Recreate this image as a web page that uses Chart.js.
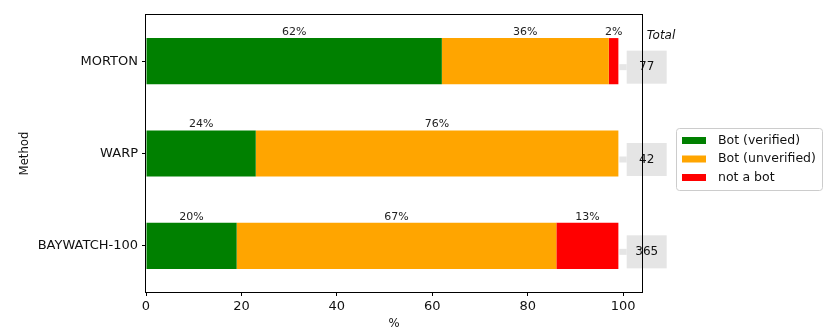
<!DOCTYPE html>
<html><head><meta charset="utf-8">
<script src="https://cdn.jsdelivr.net/npm/chart.js@4/dist/chart.umd.min.js"></script>
<style>html,body{margin:0;padding:0;background:#fff}#wrap{width:831px;height:335px}</style>
</head><body><div id="wrap"><canvas id="c" width="831" height="335"></canvas></div>
<script>
const methods = ["MORTON", "WARP", "BAYWATCH-100"];
const seriesNames = ["Bot (verified)", "Bot (unverified)", "not a bot"];
const botVerified = [62, 23, 19];
const botUnverified = [35, 76, 67];
const notABot = [2, 0, 13];
const labelsVerified = ["62%", "24%", "20%"];
const labelsUnverified = ["36%", "76%", "67%"];
const labelsNotABot = ["2%", "", "13%"];
const totals = [77, 42, 365];
const xTicks = [0, 20, 40, 60, 80, 100];
const seriesColors = ["#008000", "#FFA500", "#FF0000"];

const FONT = "'DejaVu Sans', sans-serif";
const seriesLabelText = [labelsVerified, labelsUnverified, labelsNotABot];

const overlay = {
  id: 'overlay',
  afterDatasetsDraw(chart) {
    const ctx = chart.ctx;
    const xs = chart.scales.x, ys = chart.scales.y;
    ctx.save();
    ctx.font = "11px " + FONT;
    ctx.fillStyle = "#222";
    ctx.textAlign = "center";
    ctx.textBaseline = "alphabetic";
    chart.data.datasets.forEach((ds, di) => {
      const meta = chart.getDatasetMeta(di);
      meta.data.forEach((bar, i) => {
        const txt = seriesLabelText[di][i];
        if (!txt) return;
        const cx = (bar.x + bar.base) / 2;
        const top = bar.y - bar.height / 2;
        ctx.fillText(txt, cx, top - 3);
      });
    });
    const boxCx = 646.7, boxW = 40, boxH = 33;
    methods.forEach((m, i) => {
      const yc = ys.getPixelForValue(i) + 6;
      const barEnd = xs.getPixelForValue(botVerified[i] + botUnverified[i] + notABot[i]);
      ctx.fillStyle = "#e5e5e5";
      ctx.fillRect(barEnd + 1, yc - 3, (boxCx - boxW / 2) - barEnd - 1, 6);
      ctx.fillRect(boxCx - boxW / 2, yc - boxH / 2, boxW, boxH);
      ctx.fillStyle = "#111";
      ctx.font = "12px " + FONT;
      ctx.textAlign = "center";
      ctx.textBaseline = "middle";
      ctx.fillText(String(totals[i]), boxCx, yc);
    });
    ctx.font = "italic 12px " + FONT;
    ctx.textAlign = "center";
    ctx.textBaseline = "middle";
    ctx.fillStyle = "#111";
    ctx.fillText("Total", 661, 36);
    ctx.restore();
  },
  afterDraw(chart) {
    const ctx = chart.ctx;
    const ca = chart.chartArea;
    ctx.save();
    ctx.strokeStyle = "#000";
    ctx.lineWidth = 1;
    ctx.strokeRect(Math.round(ca.left) - 0.5, Math.round(ca.top) - 0.5, Math.round(ca.right - ca.left) + 1, Math.round(ca.bottom - ca.top) + 1);
    const lx = 676, ly = 128, lw = 146, lh = 62;
    ctx.fillStyle = "rgba(255,255,255,0.8)";
    ctx.strokeStyle = "#cccccc";
    ctx.beginPath();
    if (ctx.roundRect) ctx.roundRect(lx + 0.5, ly + 0.5, lw, lh, 3); else ctx.rect(lx + 0.5, ly + 0.5, lw, lh);
    ctx.fill();
    ctx.stroke();
    ctx.font = "12.5px " + FONT;
    ctx.textAlign = "left";
    ctx.textBaseline = "middle";
    seriesNames.forEach((n, i) => {
      const yc = 140.5 + i * 18.5;
      ctx.fillStyle = seriesColors[i];
      ctx.fillRect(682, yc - 3.5, 24, 7);
      ctx.fillStyle = "#111";
      ctx.fillText(n, 718, yc);
    });
    ctx.restore();
  }
};

new Chart(document.getElementById('c'), {
  type: 'bar',
  data: {
    labels: methods,
    datasets: [
      { label: seriesNames[0], data: botVerified, backgroundColor: seriesColors[0] },
      { label: seriesNames[1], data: botUnverified, backgroundColor: seriesColors[1] },
      { label: seriesNames[2], data: notABot, backgroundColor: seriesColors[2] }
    ]
  },
  options: {
    indexAxis: 'y',
    responsive: false,
    devicePixelRatio: 1,
    animation: false,
    barPercentage: 0.5,
    categoryPercentage: 1.0,
    layout: { padding: { left: 18, top: 15, right: 189, bottom: 0 } },
    plugins: { legend: { display: false }, tooltip: { enabled: false } },
    scales: {
      x: {
        stacked: true, min: 0, max: 103.95,
        afterBuildTicks: (s) => { s.ticks = xTicks.map(v => ({ value: v })); },
        afterFit: (s) => { s.height = 43; },
        border: { display: false },
        grid: { drawOnChartArea: false, drawTicks: true, tickLength: 4, color: '#000' },
        ticks: { color: '#111', font: { family: FONT, size: 13 }, padding: 3, maxRotation: 0 },
        title: { display: true, text: '%', color: '#111', font: { family: FONT, size: 11.7 }, padding: { top: 2, bottom: 4 } }
      },
      y: {
        stacked: true,
        afterFit: (s) => { s.width = 128; },
        border: { display: false },
        grid: { drawOnChartArea: false, drawTicks: true, tickLength: 4, color: '#000', offset: false },
        ticks: { color: '#111', font: { family: FONT, size: 13 }, padding: 4 },
        title: { display: true, text: 'Method', color: '#111', font: { family: FONT, size: 11.7 }, padding: 0 }
      }
    }
  },
  plugins: [overlay]
});
</script>
</body></html>
